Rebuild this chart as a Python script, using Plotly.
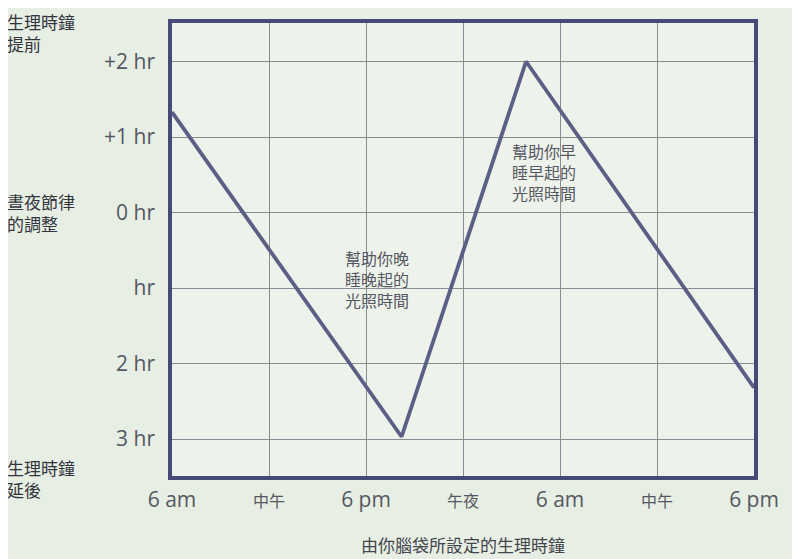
import plotly.graph_objects as go

# Data (hours from 6 am on x; phase shift in hours on y)
x_hours = [0, 14.2, 21.9, 36]
shift_hr = [1.33, -2.97, 2.0, -2.32]

x_tickvals = [0, 6, 12, 18, 24, 30, 36]
x_ticktext = ["6 am", "中午", "6 pm", "午夜", "6 am", "中午", "6 pm"]
y_tickvals = [2, 1, 0, -1, -2, -3]
y_ticktext = ["+2 hr", "+1 hr", "0 hr", "hr", "2 hr", "3 hr"]

x_title = "由你腦袋所設定的生理時鐘"
side_labels = ["生理時鐘<br>提前", "晝夜節律<br>的調整", "生理時鐘<br>延後"]
note_late = "幫助你晚<br>睡晚起的<br>光照時間"
note_early = "幫助你早<br>睡早起的<br>光照時間"

FONT = "Open Sans, Noto Sans CJK TC, sans-serif"
CJK = "Noto Sans CJK TC, sans-serif"
TXT = "#555862"
FRAME = "#474a78"


def tick_label(t):
    # CJK tick labels are set smaller than the Latin ones in the reference
    if any(ord(c) > 0x2E80 for c in t):
        return "<span style='font-size:16px'>" + t + "</span>"
    return t


fig = go.Figure()
fig.add_trace(go.Scatter(x=x_hours, y=shift_hr, mode="lines",
                         line=dict(color="#5c5f85", width=3.8),
                         showlegend=False, hoverinfo="skip"))

# page body adds an offset; figure size/margins compensate for it
fig.update_layout(
    width=792, height=551,
    margin=dict(l=164, r=46, t=15, b=83),
    paper_bgcolor="#e7eee4",
    plot_bgcolor="#edf2eb",
    font=dict(family=FONT, color=TXT),
)
fig.update_xaxes(range=[0, 36], tickvals=x_tickvals,
                 ticktext=[tick_label(t) for t in x_ticktext],
                 showgrid=True, gridcolor="#8a8c94", gridwidth=1,
                 showline=True, linecolor=FRAME, linewidth=3.5, mirror=True,
                 zeroline=False, tickfont=dict(size=21, family=FONT, color=TXT),
                 ticklabelstandoff=2, automargin=False,
                 title=dict(text=x_title, font=dict(size=17, family=CJK, color="#44464e"),
                            standoff=29))
fig.update_yaxes(range=[-3.49, 2.51], tickvals=y_tickvals, ticktext=y_ticktext,
                 showgrid=True, gridcolor="#8a8c94", gridwidth=1,
                 showline=True, linecolor=FRAME, linewidth=3.5, mirror=True,
                 zeroline=False, tickfont=dict(size=21, family=FONT, color=TXT),
                 ticklabelstandoff=9, automargin=False)

# Side labels (paper coords relative to plot area: 582 x 453 px)
for text, ypos in zip(side_labels, [1.033, 0.636, 0.048]):
    fig.add_annotation(text=text, xref="paper", yref="paper", x=-0.286, y=ypos,
                       xanchor="left", yanchor="top", align="left", showarrow=False,
                       borderpad=0,
                       font=dict(size=17, family=CJK, color="#33353d"))

fig.add_annotation(text=note_late, x=12.71, y=-0.875, showarrow=False, align="left",
                   font=dict(size=16, family=CJK, color=TXT))
fig.add_annotation(text=note_early, x=23.03, y=0.53, showarrow=False, align="left",
                   font=dict(size=16, family=CJK, color=TXT))

fig.write_html("out.html")
